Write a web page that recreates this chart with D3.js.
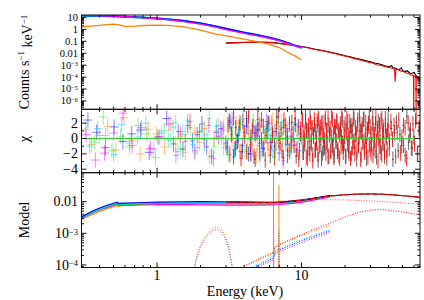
<!DOCTYPE html>
<html>
<head>
<meta charset="utf-8">
<script src="https://cdn.jsdelivr.net/npm/d3@7"></script>
<style>
  body { margin: 0; background: #fff; }
  text { font-family: "Liberation Serif", "Times New Roman", serif; fill: #000; }
</style>
</head>
<body>
<div id="vis"></div>
<script>
// ---------- data ----------
// top panel: low energy spectra (counts s-1 keV-1)
const loE = [0.3, 0.35, 0.4, 0.45, 0.5, 0.55, 0.6, 0.7, 0.8, 1.0, 1.2, 1.5, 2.0, 2.5, 3.0, 4.0, 5.0, 6.0, 7.0, 8.0, 9.0, 10.0];
const greenC   = [13.6, 13.5, 13.2, 12.8, 12.3, 11.9, 11.3, 10.4, 9.5, 8.0, 6.8, 5.1, 3.1, 1.8, 1.1, 0.52, 0.31, 0.2, 0.12, 0.07, 0.043, 0.029];
const cyanC    = [14.0, 13.9, 13.5, 13.0, 12.6, 12.1, 11.5, 10.6, 9.7, 8.2, 6.9, 5.2, 3.2, 1.85, 1.12, 0.54, 0.32, 0.2, 0.125, 0.072, 0.044, 0.029];
const blueC    = [14.5, 14.2, 13.8, 13.3, 12.8, 12.3, 11.8, 10.8, 9.9, 8.4, 7.1, 5.4, 3.3, 1.9, 1.15, 0.55, 0.33, 0.21, 0.13, 0.075, 0.045, 0.03];
const magentaC = [15.0, 14.6, 14.0, 13.4, 12.8, 12.2, 11.5, 10.4, 9.3, 7.8, 6.4, 4.7, 2.8, 1.6, 0.97, 0.47, 0.28, 0.18, 0.115, 0.068, 0.042, 0.028];
const orangeC  = [1.6, 1.9, 2.2, 2.5, 2.8, 2.4, 1.8, 1.9, 2.1, 2.3, 2.2, 1.7, 0.85, 0.42, 0.28, 0.15, 0.09, 0.055, 0.03, 0.012, 0.006, 0.0027];

// top panel: hard X-ray spectra
const redE = [3.0, 3.2, 3.5, 3.8, 4.1, 4.5, 5.0, 5.5, 6.0, 6.5, 7.0, 7.6, 8.3, 9.0, 10, 11, 12, 13, 14.5, 16, 17.5, 19, 21, 23, 25, 27, 29, 31, 33, 35, 37, 39, 41, 43, 44, 44.4, 45, 47, 49, 51, 53, 55, 57, 59.5, 59.7, 59.9, 61.8, 62, 62.2, 64, 66];
const redC = [0.071, 0.075, 0.078, 0.08, 0.082, 0.083, 0.085, 0.083, 0.08, 0.075, 0.066, 0.058, 0.05, 0.044, 0.036, 0.029, 0.023, 0.019, 0.015, 0.011, 0.0088, 0.0066, 0.005, 0.0037, 0.0029, 0.0022, 0.0018, 0.0015, 0.0011, 0.00098, 0.0008, 0.00072, 0.0006, 0.00052, 0.00048, 0.00004, 0.00045, 0.00041, 0.00031, 0.00029, 0.00022, 0.0002, 0.00016, 0.00014, 1e-7, 0.00013, 0.00011, 1e-7, 0.0001, 0.000075, 0.00006];
const blackE = [3.0, 3.3, 3.6, 4.0, 4.4, 4.9, 5.4, 6.0, 6.6, 7.2, 8.0, 9.0, 10, 11, 12.2, 13.5, 15, 16.5, 18, 20, 22, 24, 26, 28, 30, 32, 34, 36, 38, 40, 42, 43, 45, 47, 49, 50, 52, 54, 56, 58, 60, 62, 64, 66];
const blackC = [0.07, 0.074, 0.077, 0.08, 0.083, 0.084, 0.084, 0.081, 0.074, 0.065, 0.055, 0.045, 0.037, 0.03, 0.023, 0.018, 0.014, 0.011, 0.0085, 0.0062, 0.0048, 0.0036, 0.003, 0.0023, 0.0019, 0.0015, 0.0013, 0.0011, 0.00085, 0.00075, 0.0009, 0.0006, 0.00055, 0.0004, 0.0006, 0.00035, 0.0003, 0.00033, 0.00022, 0.0002, 0.00025, 0.00013, 0.0001, 0.00008];

// residual panel (chi); low energy sets: 10 bins 0.3-1.2 keV, 12 bins 1.2-3 keV, 18 bins 3-10 keV
const blueR    = [2.4, 0.8, -1.2, 1.5, -0.4, 0.6, 1.1, -1.8, 0.2, 2.6, -0.7, 0.9, -1.4, 1.7, -0.3, 0.5, 1.9, -1.1, -2.3, 0.8, 1.3, -0.6, 2.1, -1.5, 0.4, -0.9, 1.6, -2.0, 0.7, 1.2, -1.3, 2.2, -0.5, 0.9, -1.9, 1.4, -0.8, 0.3, 1.8, -1.6];
const cyanR    = [-1.0, 1.3, 0.4, -2.1, 1.8, -0.6, 0.2, 2.0, -1.4, 0.7, -0.2, 1.5, -1.7, 0.9, 2.3, -0.8, -1.2, 1.1, 0.5, -2.4, 1.6, 0.1, -0.9, 1.9, -1.5, 0.6, 2.5, -1.1, -0.3, 1.4, -2.2, 0.8, 1.0, -1.6, 0.3, 2.1, -0.7, -1.8, 1.2, 0.4];
const magentaR = [0.5, -2.8, -1.9, 0.7, 3.3, -0.9, 1.4, -1.3, 0.2, 1.9, -2.2, 0.6, -0.4, 2.2, -1.6, 0.9, -0.1, 1.7, -2.6, 0.3, 1.1, -1.0, 2.4, -0.5, -1.7, 0.8, 1.5, -2.0, 0.4, 1.8, -1.2, -0.6, 2.0, -1.4, 0.7, -2.9, 1.3, 0.2, -0.8, 1.6];
const greenR   = [1.2, -0.5, 2.8, -1.6, 0.3, -1.1, 1.7, 0.6, -2.5, 1.0, -0.2, 2.1, -1.3, 0.5, 1.4, -1.9, 0.8, -0.6, 2.6, -1.0, 0.2, 1.5, -2.1, 0.9, -0.4, 1.8, -1.5, 0.6, 2.3, -0.9, -1.7, 1.1, 0.4, -2.3, 1.6, -0.1, 0.9, -1.2, 2.0, -0.7];
const orangeR  = [-0.8, 0.4, 1.6, -1.5, 2.7, -0.3, -2.0, 1.2, 0.6, -1.1, 1.9, -0.7, 0.3, -1.8, 2.2, 0.8, -0.5, 1.3, -2.4, 0.1, 1.7, -1.2, 0.9, -0.2, 2.0, -1.6, 0.5, 1.1, -0.9, -2.2, 1.5, 0.2, -1.4, 2.4, -0.6, 0.7, 1.8, -1.3, -0.4, 1.0];
// hard sets: red 40 bins 3-10, 120 bins 10-40, 20 bins 40-66 keV; black 35 / 97 / 18
const redR = [1.8, -2.1, 0.6, 2.7, -1.3, -0.4, 1.5, -2.6, 2.2, 0.3, -1.7, 2.9, -0.8, 1.1, -2.3, 0.7, 2.5, -1.9, -0.2, 1.6,
  -2.8, 0.9, 2.0, -1.1, 0.4, -2.5, 1.3, 2.8, -0.6, -1.6, 2.4, 0.1, -2.2, 1.9, -0.9, 0.6, 2.6, -1.4, -2.7, 1.2,
  0.2, 2.3, -1.8, 0.8, -0.3, 2.9, -2.4, 1.0, -1.2, 1.7, 0.5, -2.0, 2.1, -0.7, 1.4, -2.9, 0.3, 2.4, -1.5, 0.9,
  -0.5, 1.8, -2.1, 2.6, -1.0, 0.4, 1.5, -2.6, 0.7, 2.0, -1.3, -0.1, 2.2, -1.9, 1.1, -0.8, 2.7, -2.3, 0.6, 1.3,
  -1.6, 0.2, 2.5, -1.2, -2.5, 1.6, 0.8, -0.4, 2.3, -1.7, 1.0, -2.2, 0.5, 1.9, -1.1, 2.8, -0.6, -1.8, 1.4, 0.3,
  -2.3, 1.1, 2.6, -0.7, 0.4, -1.9, 2.2, -2.6, 0.9, 1.7, -1.2, 2.8, -0.3, -2.0, 1.4, 0.6, -1.5, 2.4, -0.9, 0.2,
  1.9, -2.7, 0.8, 1.2, -0.5, 2.5, -1.8, -0.2, 2.1, -1.1, 0.7, -2.4, 1.6, 2.9, -1.4, 0.3, -0.8, 2.0, -2.2, 1.0,
  0.5, -1.6, 2.7, -0.4, 1.3, -2.9, 0.1, 1.8, -1.0, 2.3, -2.1, 0.6, 1.5, -0.6, -1.7, 2.6, 0.4, -2.5, 1.1, 0.9,
  -1.3, 2.2, -0.1, 1.7, -2.3, 0.8, 2.4, -1.9, 0.2, -0.9, 1.4, -2.6, 2.0, 0.5, -1.2, 1.9, -0.7, 2.7, -2.0, 1.2];
const blackR = [-1.2, 2.3, 0.5, -2.4, 1.4, -0.3, 2.0, -1.7, 0.8, 2.6, -2.0, 0.1, 1.6, -2.7, 1.0, -0.6, 2.4, -1.4, 0.4, 1.9,
  -2.2, 0.7, -1.0, 2.8, -0.2, 1.2, -2.5, 1.7, 0.3, -1.6, 2.1, -0.9, -2.3, 1.5, 0.6, 2.5, -1.8, 0.2, -0.7, 2.2,
  1.1, -2.6, 0.9, -1.3, 2.7, -0.4, 1.3, -2.1, 0.5, 1.8, -1.5, -0.1, 2.3, -2.8, 0.8, 1.4, -0.8, 2.0, -1.9, 0.3,
  -1.1, 2.6, -0.5, 1.0, -2.4, 1.7, 0.4, -1.7, 2.9, -0.9, 0.6, -2.2, 1.5, -0.3, 2.1, -1.4, 0.9, -2.6, 1.2, 0.2,
  2.4, -1.0, -0.6, 1.9, -2.3, 0.7, 2.2, -1.6, 0.1, 1.6, -2.0, 1.1, -0.4, 2.5, -1.2, 0.5, -2.7, 1.8, -0.8, 3.1,
  0.9, -2.1, 1.8, -0.4, 2.5, -1.5, 0.3, -2.6, 1.2, 2.0, -0.8, 1.5, -1.9, 0.6, 2.8, -1.2, -0.2, 1.9, -2.4, 0.8,
  2.2, -1.0, 0.4, -1.8, 2.6, -0.6, 1.0, -2.3, 1.6, 0.2, -1.4, 2.4, -0.3, 1.3, -2.7, 0.7, 2.1, -1.6, 0.5, -0.9,
  1.7, -2.2, 2.9, -0.5, 1.1, -1.3, 0.3, 2.3, -2.0, 1.4];

// model panel
const mE = [0.3, 0.35, 0.4, 0.45, 0.5, 0.53, 0.54, 0.6, 0.7, 0.8, 1.0, 1.5, 2.0, 3.0, 4.0, 5.0, 6.0, 7.0, 8.0, 10, 12, 15.7];
const orangeM  = [0.0028, 0.0038, 0.0049, 0.006, 0.0069, 0.0074, 0.0072, 0.0076, 0.008, 0.0083, 0.0085, 0.0086, 0.0086, 0.0085, 0.0084, 0.0084, 0.0085, 0.0087, 0.0091, 0.0101, 0.0118, 0.0145];
const magentaM = [0.003, 0.0042, 0.0055, 0.0066, 0.0076, 0.0082, 0.0076, 0.0077, 0.0078, 0.0079, 0.008, 0.008, 0.0079, 0.0078, 0.0078, 0.0078, 0.0079, 0.0081, 0.0085, 0.0095, 0.0112, 0.014];
const greenM   = [0.003, 0.0043, 0.0057, 0.0069, 0.008, 0.0086, 0.008, 0.0081, 0.0083, 0.0085, 0.0088, 0.009, 0.0091, 0.009, 0.0088, 0.0087, 0.0086, 0.0088, 0.0093, 0.0105, 0.0122, 0.0148];
const cyanM    = [0.0031, 0.0045, 0.0059, 0.0072, 0.0084, 0.009, 0.0083, 0.0085, 0.0087, 0.0089, 0.0091, 0.0093, 0.0094, 0.0093, 0.0091, 0.009, 0.0089, 0.009, 0.0095, 0.0107, 0.0124, 0.015];
const blueM    = [0.0033, 0.0048, 0.0063, 0.0077, 0.0089, 0.0096, 0.0088, 0.009, 0.0092, 0.0094, 0.0097, 0.0099, 0.01, 0.0099, 0.0097, 0.0095, 0.0094, 0.0095, 0.01, 0.0112, 0.0128, 0.0155];
const hardME = [3, 4, 5, 6, 7, 8, 10, 12, 15, 20, 25, 30, 35, 40, 50, 60, 66];
const redM   = [0.0098, 0.0096, 0.0095, 0.0094, 0.0096, 0.01, 0.0111, 0.0125, 0.0148, 0.0165, 0.0173, 0.0175, 0.0172, 0.0167, 0.0155, 0.0143, 0.0137];
const contE = [3, 5, 7, 10, 15, 20, 30, 40, 50, 66];
const redCont = [0.009, 0.0095, 0.0104, 0.0113, 0.0115, 0.0113, 0.0105, 0.0098, 0.0091, 0.0083];
const reflE = [4, 5, 6, 6.4, 6.5, 7, 8, 10, 12, 15, 20, 25, 30, 35, 40, 50, 66];
const redRefl = [9e-5, 1.5e-4, 2.2e-4, 2.5e-4, 3.6e-4, 4.4e-4, 5.8e-4, 9e-4, 1.3e-3, 1.9e-3, 3.3e-3, 4.6e-3, 5.4e-3, 5.6e-3, 5.4e-3, 4.7e-3, 3.8e-3];
const hardE = [4.0, 5.0, 6.0, 6.4, 6.5, 7.0, 8.0, 10, 12, 15.7];
const orangeHard  = [9e-5, 1.4e-4, 2.1e-4, 2.4e-4, 3.6e-4, 4.4e-4, 5.6e-4, 8.5e-4, 1.15e-3, 1.75e-3];
const cyanHard    = [6.8e-5, 1.05e-4, 1.6e-4, 1.8e-4, 2.7e-4, 3.3e-4, 4.2e-4, 6.4e-4, 8.6e-4, 1.3e-3];
const blueHard    = [6.1e-5, 9.5e-5, 1.43e-4, 1.63e-4, 2.45e-4, 3e-4, 3.8e-4, 5.8e-4, 7.8e-4, 1.19e-3];
const magentaHard = [5.4e-5, 8.4e-5, 1.26e-4, 1.44e-4, 2.16e-4, 2.64e-4, 3.36e-4, 5.1e-4, 6.9e-4, 1.05e-3];
const humpE = [1.8, 1.9, 2.0, 2.1, 2.2, 2.3, 2.4, 2.5, 2.6, 2.7, 2.8, 2.9, 3.0, 3.1, 3.2, 3.3, 3.4];
const orangeHump = [8e-5, 2.2e-4, 4.2e-4, 6.6e-4, 9.2e-4, 1.17e-3, 1.38e-3, 1.52e-3, 1.56e-3, 1.48e-3, 1.28e-3, 1e-3, 7e-4, 4.3e-4, 2.3e-4, 1.1e-4, 5e-5];
const blueHump   = [7e-5, 1.9e-4, 3.6e-4, 5.6e-4, 7.8e-4, 1.0e-3, 1.17e-3, 1.29e-3, 1.33e-3, 1.26e-3, 1.09e-3, 8.5e-4, 6e-4, 3.7e-4, 2e-4, 9e-5, 4e-5];
const lineE = [6.4, 6.97];
const orangeLine  = [0.12, 0.034];
const blueLine    = [2.0e-3, 1.2e-3];
const cyanLine    = [1.6e-3, 1.4e-3];
const magentaLine = [1.3e-3, 1.0e-3];

// ---------- layout ----------
const W = 424, H = 300;
const L = 81.5, R = 420;
const col = {black: "#000000", red: "#ff0000", green: "#00e000", blue: "#0000ff", cyan: "#00d8ff", magenta: "#ff00ff", orange: "#ff8000"};

const svg = d3.select("#vis").append("svg")
  .attr("width", W).attr("height", H);

const x = d3.scaleLog().domain([0.3, 66]).range([L, R]);

const yTop = d3.scaleLog().domain([2e-7, 16]).range([109.3, 15]);
const yChi = d3.scaleLinear().domain([-4.45, 3.8]).range([172.7, 109.3]);
const yMod = d3.scaleLog().domain([8.3e-5, 0.082]).range([267.5, 172.7]);

function clip(id, y) {
  const r = y.range();
  svg.append("clipPath").attr("id", id).append("rect")
    .attr("x", L).attr("y", r[1]).attr("width", R - L).attr("height", r[0] - r[1]);
  return svg.append("g").attr("clip-path", `url(#${id})`);
}

const gTop = clip("cTop", yTop);
const gChi = clip("cChi", yChi);
const gMod = clip("cMod", yMod);

function drawLine(g, y, es, vs, colour, w, dash, op) {
  const pts = es.map((e, i) => [e, vs[i]]);
  g.append("path")
    .attr("d", d3.line().x(d => x(d[0])).y(d => y(Math.max(d[1], 1e-9)))(pts))
    .attr("fill", "none")
    .attr("stroke", colour)
    .attr("stroke-width", w)
    .attr("stroke-dasharray", dash || null)
    .attr("stroke-opacity", op || 1);
}

// ---------- top panel ----------
drawLine(gTop, yTop, blackE, blackC, col.black, 1.1);
drawLine(gTop, yTop, redE, redC, col.red, 1.1);
drawLine(gTop, yTop, loE, greenC, col.green, 2);
drawLine(gTop, yTop, loE, orangeC, col.orange, 1.3);
drawLine(gTop, yTop, loE, cyanC, col.cyan, 2);
drawLine(gTop, yTop, loE, blueC, col.blue, 1.6);
drawLine(gTop, yTop, loE, magentaC, col.magenta, 1.3);

// ---------- residual panel ----------
// segs: [e0, e1, number of bins]; bins are equal in log energy inside a segment
function drawRes(res, colour, segs, op) {
  const b = [];
  let k = 0;
  segs.forEach(([e0, e1, n]) => {
    const a = Math.log10(e0), c = Math.log10(e1);
    for (let i = 0; i < n; i++, k++) {
      const lo = Math.pow(10, a + (c - a) * i / n), hi = Math.pow(10, a + (c - a) * (i + 1) / n);
      b.push({lo, hi, c: Math.sqrt(lo * hi), r: res[k]});
    }
  });
  const g = gChi.append("g").attr("stroke", colour).attr("stroke-width", 1).attr("stroke-opacity", op);
  g.selectAll(".v").data(b).enter().append("line")
    .attr("x1", d => x(d.c)).attr("x2", d => x(d.c))
    .attr("y1", d => yChi(d.r - 1)).attr("y2", d => yChi(d.r + 1));
  g.selectAll(".h").data(b).enter().append("line")
    .attr("x1", d => x(d.lo)).attr("x2", d => x(d.hi))
    .attr("y1", d => yChi(d.r)).attr("y2", d => yChi(d.r));
}
drawRes(blackR, col.black, [[3, 10, 35], [10, 40, 97], [40, 66, 18]], 0.6);
drawRes(redR, col.red, [[3.05, 10, 40], [10, 40, 120], [40, 66, 20]], 0.85);
drawRes(greenR, "#33dd33", [[0.3, 1.2, 10], [1.2, 3, 12], [3, 10, 18]], 0.5);
drawRes(blueR, col.blue, [[0.31, 1.25, 10], [1.25, 3.1, 12], [3.1, 10, 18]], 0.5);
drawRes(cyanR, col.cyan, [[0.32, 1.15, 10], [1.15, 2.9, 12], [2.9, 9.8, 18]], 0.55);
drawRes(magentaR, col.magenta, [[0.3, 1.3, 10], [1.3, 3.2, 12], [3.2, 9.9, 18]], 0.5);
drawRes(orangeR, col.orange, [[0.33, 1.2, 10], [1.2, 3, 12], [3, 9.6, 18]], 0.5);
gChi.append("line")
  .attr("x1", L).attr("x2", R).attr("y1", yChi(0)).attr("y2", yChi(0))
  .attr("stroke", "#33cc33").attr("stroke-width", 1);

// ---------- model panel ----------
const dot = "1,1.6";
drawLine(gMod, yMod, humpE, orangeHump, col.orange, 1, dot);
drawLine(gMod, yMod, humpE, blueHump, "#8040ff", 1, dot);
drawLine(gMod, yMod, hardE, magentaHard, col.magenta, 1, dot);
drawLine(gMod, yMod, hardE, blueHard, col.blue, 1, dot);
drawLine(gMod, yMod, hardE, cyanHard, col.cyan, 1, dot);
drawLine(gMod, yMod, hardE, orangeHard, col.orange, 1, dot);
drawLine(gMod, yMod, reflE, redRefl, col.red, 1, dot);
drawLine(gMod, yMod, contE, redCont, col.red, 1, dot, 0.7);

[[magentaLine, col.magenta], [cyanLine, col.cyan], [blueLine, "#8040ff"]].forEach(([pk, c]) => {
  gMod.selectAll(null).data(lineE.map((e, i) => [e, pk[i]])).enter().append("line")
    .attr("x1", d => x(d[0])).attr("x2", d => x(d[0]))
    .attr("y1", yMod.range()[0]).attr("y2", d => yMod(d[1]))
    .attr("stroke", c).attr("stroke-width", 1).attr("stroke-dasharray", dot);
});
gMod.selectAll(null).data(lineE.map((e, i) => [e, orangeLine[i]])).enter().append("line")
  .attr("x1", d => x(d[0])).attr("x2", d => x(d[0]))
  .attr("y1", yMod.range()[0]).attr("y2", d => yMod(d[1]))
  .attr("stroke", col.orange).attr("stroke-width", 1);

drawLine(gMod, yMod, mE, orangeM, col.orange, 1.2);
drawLine(gMod, yMod, mE, magentaM, col.magenta, 1.2);
drawLine(gMod, yMod, mE, greenM, col.green, 1.2);
drawLine(gMod, yMod, mE, cyanM, col.cyan, 1.2);
drawLine(gMod, yMod, mE, blueM, col.blue, 1.2);
drawLine(gMod, yMod, hardME, redM, col.black, 1);
drawLine(gMod, yMod, hardME, redM, col.red, 1.3, "5,2");

// ---------- frames and ticks ----------
const xMajor = [1, 10];
const xMinor = [0.3, 0.4, 0.5, 0.6, 0.7, 0.8, 0.9, 2, 3, 4, 5, 6, 7, 8, 9, 20, 30, 40, 50, 60];

function logTicks(dom) {
  const maj = [], min = [];
  for (let p = Math.floor(Math.log10(dom[0])); p <= Math.ceil(Math.log10(dom[1])); p++) {
    for (let k = 1; k < 10; k++) {
      const v = k * Math.pow(10, p);
      if (v < dom[0] || v > dom[1]) continue;
      (k === 1 ? maj : min).push(v);
    }
  }
  return {maj, min};
}

function frame(y, yMaj, yMin) {
  const g = svg.append("g").attr("stroke", "#111").attr("stroke-width", 1).attr("fill", "none");
  const r = y.range(), top = r[1], bot = r[0];
  g.append("rect").attr("x", L).attr("y", top).attr("width", R - L).attr("height", bot - top);
  xMajor.forEach(v => {
    g.append("line").attr("x1", x(v)).attr("x2", x(v)).attr("y1", bot).attr("y2", bot - 5);
    g.append("line").attr("x1", x(v)).attr("x2", x(v)).attr("y1", top).attr("y2", top + 5);
  });
  xMinor.forEach(v => {
    g.append("line").attr("x1", x(v)).attr("x2", x(v)).attr("y1", bot).attr("y2", bot - 2.5);
    g.append("line").attr("x1", x(v)).attr("x2", x(v)).attr("y1", top).attr("y2", top + 2.5);
  });
  yMaj.forEach(v => {
    g.append("line").attr("x1", L).attr("x2", L + 5).attr("y1", y(v)).attr("y2", y(v));
    g.append("line").attr("x1", R).attr("x2", R - 5).attr("y1", y(v)).attr("y2", y(v));
  });
  yMin.forEach(v => {
    g.append("line").attr("x1", L).attr("x2", L + 2.5).attr("y1", y(v)).attr("y2", y(v));
    g.append("line").attr("x1", R).attr("x2", R - 2.5).attr("y1", y(v)).attr("y2", y(v));
  });
}

const tt = logTicks(yTop.domain());
frame(yTop, tt.maj, tt.min);
frame(yChi, [-4, -2, 0, 2], [-3, -1, 1, 3]);
const mt = logTicks(yMod.domain());
frame(yMod, mt.maj, mt.min);

// ---------- labels ----------
const topLabels = [[10, "10"], [1, "1"], [0.1, "0.1"], [0.01, "0.01"], [1e-3, "10", "−3"], [1e-4, "10", "−4"], [1e-5, "10", "−5"], [1e-6, "10", "−6"]];
const chiLabels = [[2, "2"], [0, "0"], [-2, "−2"], [-4, "−4"]];
const modLabels = [[0.01, "0.01"], [1e-3, "10", "−3"], [1e-4, "10", "−4"]];
const xLabels = [[1, "1"], [10, "10"]];

function yLabel(y, lab, fs) {
  const t = svg.append("text").attr("x", 78).attr("y", y(lab[0])).attr("dy", "0.33em")
    .attr("text-anchor", "end").attr("font-size", fs);
  t.append("tspan").text(lab[1]);
  if (lab[2]) t.append("tspan").attr("font-size", fs * 0.6).attr("dy", "-0.4em").text(lab[2]);
}
topLabels.forEach(l => yLabel(yTop, l, 10.5));
chiLabels.forEach(l => yLabel(yChi, l, 14));
modLabels.forEach(l => yLabel(yMod, l, 14));

xLabels.forEach(l => {
  svg.append("text").attr("x", x(l[0])).attr("y", 280).attr("text-anchor", "middle")
    .attr("font-size", 14).text(l[1]);
});
svg.append("text").attr("x", 245).attr("y", 296).attr("text-anchor", "middle")
  .attr("font-size", 14).text("Energy (keV)");

const cnt = svg.append("text").attr("transform", "translate(29,62) rotate(-90)")
  .attr("text-anchor", "middle").attr("font-size", 14);
cnt.append("tspan").text("Counts s");
cnt.append("tspan").attr("font-size", 9).attr("dy", "-0.6em").text("−1");
cnt.append("tspan").attr("dy", "0.6em").text(" keV");
cnt.append("tspan").attr("font-size", 9).attr("dy", "-0.6em").text("−1");

svg.append("text").attr("transform", "translate(29,139) rotate(-90)")
  .attr("text-anchor", "middle").attr("font-size", 15).text("χ");
svg.append("text").attr("transform", "translate(29,220) rotate(-90)")
  .attr("text-anchor", "middle").attr("font-size", 14).text("Model");
</script>
</body>
</html>
